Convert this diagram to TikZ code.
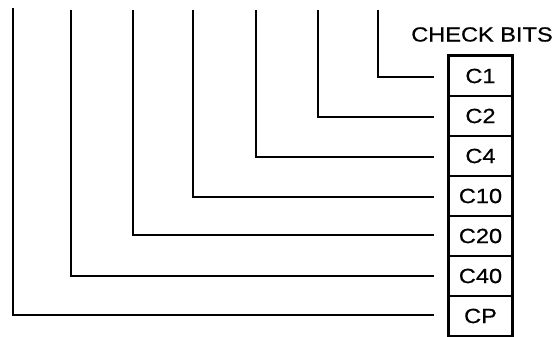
\documentclass[tikz,border=0pt]{standalone}
\usepackage{fontspec}
\newfontfamily\labfont{Liberation Sans}[FakeStretch=1.15,FakeBold=0.6]
\begin{document}
\begin{tikzpicture}[x=1pt,y=-1pt,
  cell/.style={draw,line width=1.8pt,minimum width=63pt,minimum height=40pt,inner sep=0pt,
    font=\labfont\fontsize{20.5}{24}\selectfont},
  wire/.style={line width=2pt},
  title/.style={font=\labfont\fontsize{20.5}{24}\selectfont,inner sep=0pt}]
\useasboundingbox (0,0) rectangle (560,337);
\node[title] (cb) at (482,34.5) {CHECK BITS};
\node[cell] (c1) at (480.5,76) {C1};
\node[cell] (c2) at (480.5,116) {C2};
\node[cell] (c4) at (480.5,156) {C4};
\node[cell] (c10) at (480.5,196) {C10};
\node[cell] (c20) at (480.5,236) {C20};
\node[cell] (c40) at (480.5,276) {C40};
\node[cell] (cp) at (480.5,316) {CP};
\draw[line width=3pt] (c1.north west) rectangle (cp.south east);
\coordinate (t1) at (378,10);
\coordinate (t2) at (318,10);
\coordinate (t3) at (256,10);
\coordinate (t4) at (193,10);
\coordinate (t5) at (133,10);
\coordinate (t6) at (71,10);
\coordinate (t7) at (13,8);
\coordinate (e1) at ([xshift=-14pt,yshift=-1pt]c1.west);
\coordinate (e2) at ([xshift=-14pt,yshift=-1pt]c2.west);
\coordinate (e3) at ([xshift=-14pt,yshift=-1pt]c4.west);
\coordinate (e4) at ([xshift=-14pt,yshift=-1pt]c10.west);
\coordinate (e5) at ([xshift=-14pt,yshift=1pt]c20.west);
\coordinate (e6) at ([xshift=-14pt,yshift=0pt]c40.west);
\coordinate (e7) at ([xshift=-14pt,yshift=1pt]cp.west);
\draw[wire] (t1) |- (e1);
\draw[wire] (t2) |- (e2);
\draw[wire] (t3) |- (e3);
\draw[wire] (t4) |- (e4);
\draw[wire] (t5) |- (e5);
\draw[wire] (t6) |- (e6);
\draw[wire] (t7) |- (e7);
\end{tikzpicture}
\end{document}
